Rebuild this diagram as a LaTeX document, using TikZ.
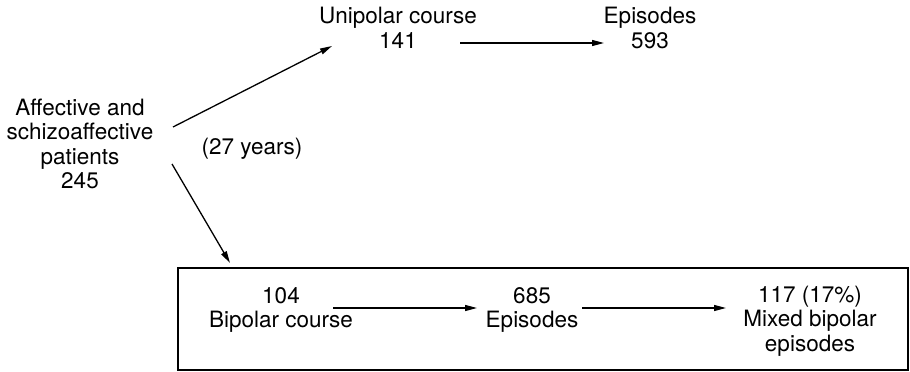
\documentclass[tikz,border=0pt]{standalone}
\usepackage{fontspec}
\setmainfont{TeX Gyre Heros}
\usetikzlibrary{arrows.meta}
\begin{document}
\begin{tikzpicture}[x=1pt,y=-1pt,
  lbl/.style={align=center,inner sep=0pt,font=\fontsize{22.5}{24.5}\selectfont},
  conn/.style={line width=1.3pt,-{Triangle[length=12pt,width=6pt]}},
  frame/.style={draw,line width=2.5pt,inner sep=0pt}]
\useasboundingbox (0,0) rectangle (910,372);
% nodes
\node[lbl] (aff) at (80,144) {Affective and\\schizoaffective\\patients\\245};
\node[lbl] (uni) at (398,28) {Unipolar course\\141};
\node[lbl] (epiA) at (650,28) {Episodes\\593};
\node[lbl] (yrs) at (252,149) {(27 years)};
\node[frame,minimum width=730pt,minimum height=102pt] (box) at (543,319) {};
\node[lbl] (bip) at (281,310) {104\\Bipolar course};
\node[lbl] (epiB) at (532,310) {685\\Episodes};
\node[lbl] (mix) at (810,321) {117 (17\%)\\Mixed bipolar\\episodes};
% connector end points
\coordinate (affUp) at (173,127);
\coordinate (uniIn) at (332,46);
\coordinate (uniOut) at (460,43);
\coordinate (epiAIn) at (604,43);
\coordinate (affDown) at (172,164);
\coordinate (boxIn) at (230,263);
\coordinate (bipOut) at (333,308);
\coordinate (epiBIn) at (477,308);
\coordinate (epiBOut) at (582,308);
\coordinate (mixIn) at (726,308);
% connectors
\draw[conn] (affUp) -- (uniIn);
\draw[conn] (uniOut) -- (epiAIn);
\draw[conn] (affDown) -- (boxIn);
\draw[conn] (bipOut) -- (epiBIn);
\draw[conn] (epiBOut) -- (mixIn);
\end{tikzpicture}
\end{document}
